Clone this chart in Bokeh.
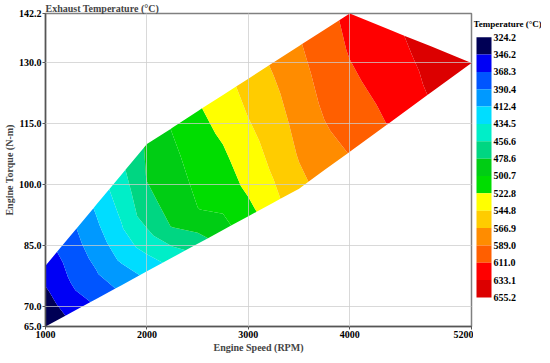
import numpy as np
from bokeh.plotting import figure
from bokeh.layouts import row
from bokeh.models import FixedTicker, PrintfTickFormatter, Range1d
from bokeh.core.properties import value
from bokeh.embed import file_html
from bokeh.resources import INLINE

# ---- data ----
speed_rpm = [1000, 1250, 1500, 1750, 2000, 2250, 2500, 2750, 3000, 3250,
             3500, 3750, 4000, 4400, 4800, 5200]
torque_low = [65.0, 68.4, 71.8, 75.2, 78.6, 82.0, 85.4, 88.8, 92.2, 95.6,
              99.0, 103.6, 108.1, 115.4, 122.7, 130.0]
torque_high = [80.0, 87.5, 95.0, 102.5, 110.0, 114.0, 118.1, 122.1, 126.1, 130.2,
               134.2, 138.2, 142.2, 138.1, 134.1, 130.0]
load_fraction = [0.0, 0.25, 0.5, 0.75, 1.0]

temp_bottom = [325, 352, 373, 396, 419, 444, 468, 494, 515, 539, 561, 577, 590, 613, 635, 650]
temp_q1 = [333, 364, 388, 417, 448, 481, 500, 508, 529, 548, 569, 586, 599, 617, 637, 650]
temp_mid = [341, 372, 398, 432, 472, 488, 507, 518, 537, 555, 575, 593, 607, 621, 638, 650]
temp_q3 = [349, 377, 408, 442, 480, 495, 513, 527, 546, 562, 581, 598, 613, 625, 640, 650]
temp_top = [356, 383, 416, 452, 482, 502, 520, 536, 553, 570, 587, 604, 616, 629, 641, 650]

levels = [324.2, 346.2, 368.3, 390.4, 412.4, 434.5, 456.6, 478.6, 500.7, 522.8,
          544.8, 566.9, 589.0, 611.0, 633.1, 655.2]
level_labels = ["324.2", "346.2", "368.3", "390.4", "412.4", "434.5", "456.6", "478.6",
                "500.7", "522.8", "544.8", "566.9", "589.0", "611.0", "633.1", "655.2"]
palette = ["#000055", "#0000f5", "#0055ff", "#0099ff", "#00ddff", "#00eec8",
           "#00d682", "#00cd14", "#00dd00", "#ffff00", "#ffcc00", "#ff8c00",
           "#ff5f00", "#ff0000", "#dc0000"]

x_ticks = [1000, 2000, 3000, 4000, 5200]
y_ticks = [65.0, 70.0, 85.0, 100.0, 115.0, 130.0, 142.2]

# ---- grid ----
S = np.array(speed_rpm, dtype=float)
lo = np.array(torque_low)
hi = np.array(torque_high)
F = np.array(load_fraction)[:, None]
X = np.tile(S, (len(load_fraction), 1))
Y = lo[None, :] + F * (hi - lo)[None, :]
Z = np.array([temp_bottom, temp_q1, temp_mid, temp_q3, temp_top], dtype=float)

SERIF = "Liberation Serif"
H = 355
W1 = 473

p = figure(width=W1, height=H,
           x_range=(1000, 5200), y_range=(65, 142.2),
           output_backend="svg", toolbar_location=None,
           min_border_left=30, min_border_right=2, min_border_top=0,
           min_border_bottom=0, background_fill_color="white")

p.contour(x=X, y=Y, z=Z, levels=levels, fill_color=palette, line_color=None)

p.title.text = "Exhaust Temperature (°C)"
p.title.align = "left"
p.title.text_font = SERIF
p.title.text_font_size = "10px"
p.title.text_font_style = "bold"
p.title.standoff = 0
p.title.offset = 0

p.xaxis.ticker = FixedTicker(ticks=x_ticks)
p.yaxis.ticker = FixedTicker(ticks=y_ticks)
p.yaxis.formatter = PrintfTickFormatter(format="%.1f")
p.xaxis.axis_label = "Engine Speed (RPM)"
p.yaxis.axis_label = "Engine Torque (N-m)"
for ax in (p.xaxis, p.yaxis):
    ax.axis_label_text_font = SERIF
    ax.axis_label_text_font_size = "10px"
    ax.axis_label_text_font_style = "bold"
    ax.major_label_text_font = SERIF
    ax.major_label_text_font_size = "10px"
    ax.major_label_text_font_style = "bold"
    ax.major_label_text_color = "black"
    ax.axis_line_color = "#555555"
    ax.axis_line_width = 1.5
    ax.major_tick_line_color = "#555555"
    ax.major_tick_out = 3
    ax.major_tick_in = 0
    ax.minor_tick_line_color = None
    ax.axis_label_standoff = 1
    ax.major_label_standoff = 1

p.outline_line_color = "#808080"
p.outline_line_width = 1.5

for g in (p.xgrid, p.ygrid):
    g.grid_line_color = "#cccccc"
    g.grid_line_alpha = 0.75
    g.grid_line_width = 1
    g.level = "overlay"
p.xgrid.ticker = FixedTicker(ticks=x_ticks)
p.ygrid.ticker = FixedTicker(ticks=y_ticks)

# ---- colour bar as its own small figure (low values at top) ----
BAR_TOP, BAR_BOTTOM = 27, 322          # canvas pixels
scale = (BAR_BOTTOM - BAR_TOP) / (levels[-1] - levels[0])
y_top_val = levels[0] - BAR_TOP / scale
y_bot_val = levels[0] + (H - BAR_TOP) / scale
W2 = 550 - 8 - W1 - 1

p2 = figure(width=W2, height=H, x_range=Range1d(0, W2),
            y_range=Range1d(y_bot_val, y_top_val),
            x_axis_type=None, y_axis_type=None,
            output_backend="svg", toolbar_location=None,
            min_border=0, outline_line_color=None)
p2.grid.visible = False
p2.quad(left=3, right=18, top=levels[:-1], bottom=levels[1:],
        fill_color=palette, line_color=None)
p2.text(x=20, y=levels, text=level_labels, text_baseline="middle",
        text_font=value(SERIF), text_font_size="10px", text_font_style="bold",
        text_color="black")
p2.text(x=[0], y=[levels[0] - 15 / scale], text=["Temperature (°C)"],
        text_baseline="middle", text_font=value(SERIF), text_font_size="9px",
        text_font_style="bold", text_color="black")

layout = row(p, p2, spacing=0)
open("out.html", "w").write(file_html(layout, INLINE))
